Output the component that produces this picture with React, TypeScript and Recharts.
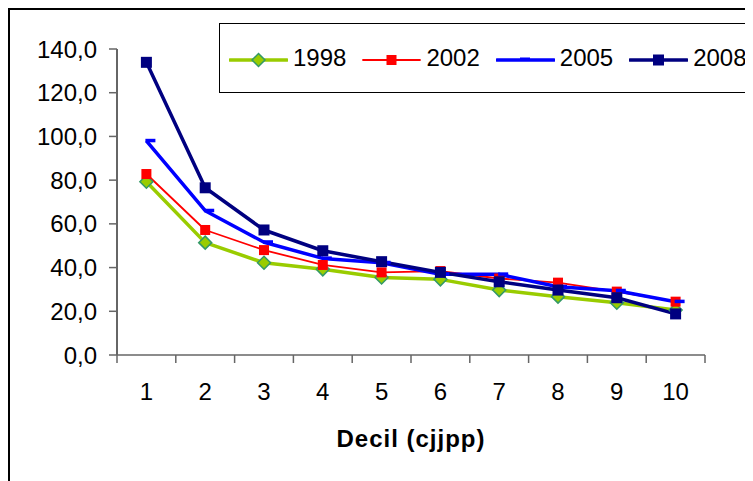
import { LineChart, Line, XAxis, YAxis, Legend } from 'recharts';

const FONT = '"Liberation Sans", Arial, sans-serif';

const DECILES = [1, 2, 3, 4, 5, 6, 7, 8, 9, 10];
const VALUES_1998 = [79.3, 51.4, 42.2, 39.2, 35.5, 34.6, 29.7, 26.7, 23.9, 20.6];
const VALUES_2002 = [82.8, 57.2, 48.0, 41.2, 37.8, 38.4, 35.0, 33.1, 29.0, 24.4];
const VALUES_2005 = [98.0, 66.0, 51.6, 44.2, 42.2, 36.9, 36.9, 31.2, 29.4, 24.4];
const VALUES_2008 = [133.9, 76.5, 57.2, 47.7, 42.7, 37.8, 33.5, 29.7, 26.2, 18.8];
const Y_TICKS = [0, 20, 40, 60, 80, 100, 120, 140];

const rows = DECILES.map((d, i) => ({
  decil: d,
  y1998: VALUES_1998[i],
  y2002: VALUES_2002[i],
  y2005: VALUES_2005[i],
  y2008: VALUES_2008[i],
}));

// category boundaries get the tick marks, the centres get the labels
const X_TICKS = [...DECILES.map((d) => d - 0.5), DECILES[DECILES.length - 1] + 0.5, ...DECILES].sort((a, b) => a - b);

type Marker = 'diamond' | 'square' | 'dash' | 'bigSquare';

const SERIES: { key: string; name: string; color: string; width: number; marker: Marker }[] = [
  { key: 'y1998', name: '1998', color: '#99CC00', width: 3.5, marker: 'diamond' },
  { key: 'y2002', name: '2002', color: '#FF0000', width: 1.8, marker: 'square' },
  { key: 'y2005', name: '2005', color: '#0000FF', width: 3.5, marker: 'dash' },
  { key: 'y2008', name: '2008', color: '#000080', width: 3.5, marker: 'bigSquare' },
];

function drawMarker(marker: Marker, color: string, cx: number, cy: number, key?: string | number) {
  if (marker === 'diamond') {
    const r = 6.5;
    return (
      <polygon key={key} points={`${cx},${cy - r} ${cx + r},${cy} ${cx},${cy + r} ${cx - r},${cy}`}
        fill={color} stroke="#339966" strokeWidth={1.5} />
    );
  }
  if (marker === 'square') return <rect key={key} x={cx - 5} y={cy - 5} width={10} height={10} fill={color} />;
  if (marker === 'bigSquare') return <rect key={key} x={cx - 5.5} y={cy - 5.5} width={11} height={11} fill={color} />;
  return <rect key={key} x={cx - 1} y={cy - 2} width={10} height={3.5} fill={color} />;
}

const DecilTick = (props: any) => {
  const { x, y, payload } = props;
  const v = payload.value as number;
  if (Number.isInteger(v)) {
    return (
      <text x={x} y={y + 45} textAnchor="middle" fontSize={24} fill="#000" fontFamily={FONT}>
        {v}
      </text>
    );
  }
  return <line x1={x} x2={x} y1={y} y2={y + 8} stroke="#666" strokeWidth={1.5} />;
};

const renderLegend = () => (
  <div
    style={{
      boxSizing: 'border-box',
      width: '100%',
      height: '100%',
      border: '1.5px solid #000',
      display: 'flex',
      alignItems: 'center',
      paddingLeft: 9,
      fontFamily: FONT,
      fontSize: 24,
      color: '#000',
    }}
  >
    {SERIES.map((s) => (
      <div key={s.key} style={{ display: 'flex', alignItems: 'center', marginRight: 16 }}>
        <svg width={59} height={20} style={{ marginRight: 5, marginTop: 4 }}>
          <line x1={1} x2={58} y1={10} y2={10} stroke={s.color} strokeWidth={s.width} strokeLinecap="round" />
          {drawMarker(s.marker, s.color, s.marker === 'dash' ? 25 : 29.5, s.marker === 'dash' ? 9.5 : 10)}
        </svg>
        <span>{s.name}</span>
      </div>
    ))}
  </div>
);

export default function App() {
  return (
    <div
      style={{
        width: 743,
        height: 473,
        boxSizing: 'border-box',
        borderLeft: '2px solid #000',
        borderTop: '2px solid #000',
        overflow: 'hidden',
        background: '#fff',
        position: 'relative',
      }}
    >
      <LineChart
        width={741}
        height={471}
        data={rows}
        margin={{ top: 39, right: 46, bottom: 26, left: 0 }}
        style={{ fontFamily: FONT }}
      >
        <XAxis
          dataKey="decil"
          type="number"
          domain={[0.5, 10.5]}
          ticks={X_TICKS}
          interval={0}
          tick={<DecilTick />}
          tickLine={false}
          tickSize={0}
          tickMargin={0}
          height={100}
          axisLine={{ stroke: '#666', strokeWidth: 1.5 }}
          label={{
            content: ({ viewBox }: any) => (
              <text
                x={viewBox.x + viewBox.width / 2}
                y={viewBox.y + 92}
                textAnchor="middle"
                fontSize={24}
                fontWeight="bold"
                letterSpacing={1}
                fontFamily={FONT}
                fill="#000"
              >
                Decil (cjjpp)
              </text>
            ),
          }}
        />
        <YAxis
          domain={[0, 140]}
          ticks={Y_TICKS}
          interval={0}
          width={107}
          tickSize={8}
          tickMargin={12}
          tickFormatter={(v: number) => v.toFixed(1).replace('.', ',')}
          tick={{ fontSize: 24, fill: '#000', fontFamily: FONT }}
          tickLine={{ stroke: '#666', strokeWidth: 1.5 }}
          axisLine={{ stroke: '#666', strokeWidth: 2 }}
        />
        <Legend
          content={renderLegend}
          layout="horizontal"
          verticalAlign="middle"
          align="center"
          wrapperStyle={{ position: 'absolute', left: 209, top: 13, width: 560, height: 70 }}
        />
        {SERIES.map((s) => (
          <Line
            key={s.key}
            dataKey={s.key}
            name={s.name}
            stroke={s.color}
            strokeWidth={s.width}
            strokeLinejoin="round"
            dot={(p: any) => drawMarker(s.marker, s.color, p.cx, p.cy, `${s.key}-${p.index}`)}
            activeDot={false}
            isAnimationActive={false}
          />
        ))}
      </LineChart>
    </div>
  );
}
